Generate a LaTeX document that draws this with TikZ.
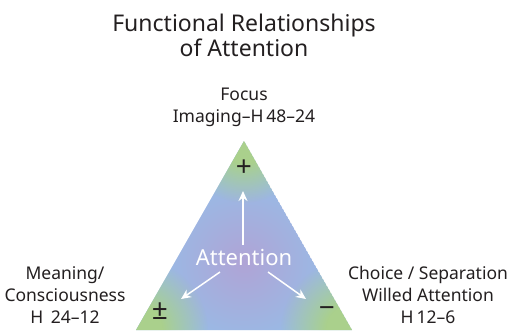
\documentclass[tikz,border=0pt]{standalone}
\usepackage{fontspec}
\setmainfont{Noto Sans}
\usetikzlibrary{arrows.meta,fadings}
\definecolor{triblue}{RGB}{150,190,232}
\definecolor{trigreen}{RGB}{170,208,140}
\definecolor{tripurple}{RGB}{176,164,214}
\definecolor{ink}{RGB}{35,31,32}
% radial masks: a soft glow, and a corner tint with an opaque core
\tikzfading[name=softdot, inner color=transparent!0, outer color=transparent!100]
\pgfdeclareradialshading{cornermask}{\pgfpointorigin}{color(0bp)=(white); color(9bp)=(white); color(25bp)=(black); color(50bp)=(black)}
\pgfdeclarefading{cornerfade}{\pgfuseshading{cornermask}}
\tikzset{
  label text/.style={font=\fontsize{17.5}{22}\selectfont, text=ink, align=center, inner sep=0pt},
  sign/.style={font=\fontsize{28}{28}\selectfont, text=ink, inner sep=0pt},
  flow/.style={white, line width=1.5pt, -{Stealth[length=10pt,width=9pt]}},
  glow/.style={path fading=softdot},
  tint/.style={path fading=cornerfade},
}
\begin{document}
\begin{tikzpicture}[x=1pt,y=-1pt]
\useasboundingbox (0,0) rectangle (511,330);
% triangle corners
\coordinate (top) at (244,141);
\coordinate (bl) at (136,330);
\coordinate (br) at (352,330);
\begin{scope}
  \clip (top) -- (bl) -- (br) -- cycle;
  \fill[triblue] (top) -- (bl) -- (br) -- cycle;
  \fill[tripurple, glow] (244,262) circle[radius=95];
  \fill[trigreen, tint] (top) circle[radius=62];
  \fill[trigreen, tint] (bl) circle[radius=72];
  \fill[trigreen, tint] (br) circle[radius=72];
\end{scope}
% title
\node[font=\fontsize{23}{25}\selectfont, text=ink, align=center, inner sep=0pt] (title) at (244,35)
  {Functional Relationships\\of Attention};
% corner labels
\node[label text] (focus) at (244,107) {Focus\\Imaging–H\,48–24};
\node[label text] (meaning) at (65,295) {Meaning/\\Consciousness\\H\, 24–12};
\node[label text] (choice) at (428,295) {Choice / Separation\\Willed Attention\\H\,12–6};
% corner signs
\node[sign] (plus) at (244,168) {+};
\node[sign] (pm) at (160,311) {±};
\node[sign] (minus) at (327,312) {−};
% centre
\node[font=\fontsize{22}{22}\selectfont, text=white, inner sep=0pt] (att) at (244,257) {Attention};
\coordinate (upend) at (243,191);
\coordinate (lend) at (181,299);
\coordinate (rend) at (306,299);
\draw[flow] (243,245) -- (upend);
\draw[flow] (220,272) -- (lend);
\draw[flow] (268,272) -- (rend);
\end{tikzpicture}
\end{document}
